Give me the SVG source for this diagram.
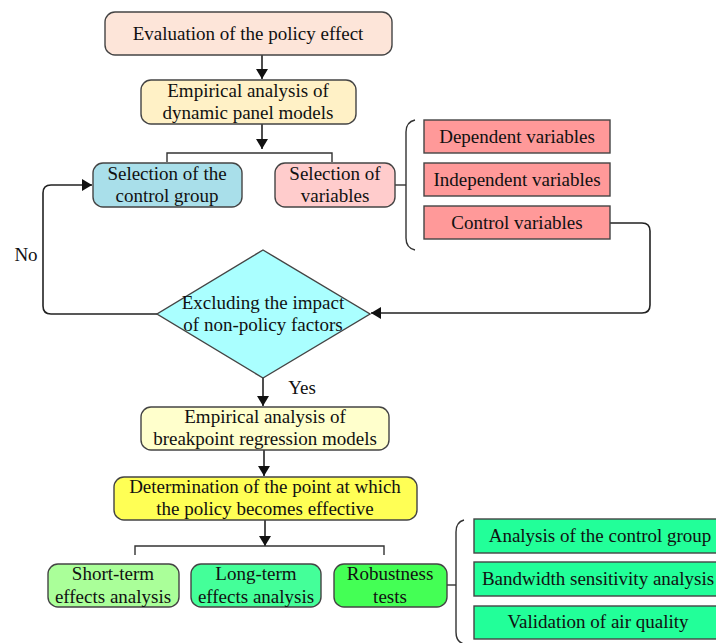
<svg xmlns="http://www.w3.org/2000/svg" width="716" height="643" viewBox="0 0 716 643">
<defs>
<marker id="ah" markerWidth="10" markerHeight="12" refX="10" refY="6" orient="auto" markerUnits="userSpaceOnUse">
<path d="M0,0 L10,6 L0,12 z" fill="#111"/>
</marker>
<style>
.n{stroke:#444;stroke-width:1.4}
.t{font-family:"Liberation Serif","Times New Roman",serif;font-size:19px;fill:#111;text-anchor:middle}
.c{fill:none;stroke:#222;stroke-width:1.6}
.l{fill:none;stroke:#333;stroke-width:1.4}
</style>
</defs>
<rect width="716" height="643" fill="#fff"/>
<g id="connectors">
<line class="c" x1="262" y1="55" x2="262" y2="79" marker-end="url(#ah)"/>
<line class="c" x1="262" y1="124" x2="262" y2="149" marker-end="url(#ah)"/>
<polyline class="l" points="167,162 167,153 332,153 332,162"/>
<line class="l" x1="395" y1="185" x2="406" y2="185"/>
<path class="l" d="M415,120 Q406,122 406,132 L406,238 Q406,248 415,250"/>
<path class="c" d="M610,223 L642,223 Q650,223 650,231 L650,305 Q650,313 642,313 L371,313" marker-end="url(#ah)"/>
<path class="c" d="M157,314 L51,314 Q43,314 43,306 L43,193 Q43,185 51,185 L92,185" marker-end="url(#ah)"/>
<line class="c" x1="263" y1="378" x2="263" y2="406" marker-end="url(#ah)"/>
<line class="c" x1="264" y1="450" x2="264" y2="476" marker-end="url(#ah)"/>
<line class="c" x1="265" y1="520" x2="265" y2="546" marker-end="url(#ah)"/>
<polyline class="l" points="135,555 135,546 384,546 384,555"/>
<line class="l" x1="447" y1="585" x2="456" y2="585"/>
<path class="l" d="M464,520 Q456,522 456,532 L456,632 Q456,642 464,644"/>
<text class="t" x="26" y="261">No</text>
<text class="t" x="302" y="394">Yes</text>
</g>
<g id="evaluation">
<rect class="n" x="105" y="12" width="287" height="43" rx="10" fill="#fde5d9"/>
<text class="t" x="248" y="40">Evaluation of the policy effect</text>
</g>
<g id="dynamic-panel">
<rect class="n" x="141" y="80" width="215" height="44" rx="10" fill="#fff1c6"/>
<text class="t" x="248" y="97">Empirical analysis of</text>
<text class="t" x="248" y="119">dynamic panel models</text>
</g>
<g id="control-group">
<rect class="n" x="93" y="163" width="149" height="44" rx="10" fill="#a9dfea"/>
<text class="t" x="167" y="180">Selection of the</text>
<text class="t" x="167" y="202">control group</text>
</g>
<g id="selection-variables">
<rect class="n" x="275" y="163" width="120" height="44" rx="10" fill="#ffcccc"/>
<text class="t" x="335" y="180">Selection of</text>
<text class="t" x="335" y="202">variables</text>
</g>
<g id="dependent">
<rect class="n" x="424" y="120" width="186" height="33" fill="#ff9999"/>
<text class="t" x="517" y="143">Dependent variables</text>
</g>
<g id="independent">
<rect class="n" x="424" y="163" width="186" height="33" fill="#ff9999"/>
<text class="t" x="517" y="186">Independent variables</text>
</g>
<g id="control-variables">
<rect class="n" x="424" y="206" width="186" height="33" fill="#ff9999"/>
<text class="t" x="517" y="229">Control variables</text>
</g>
<g id="decision">
<polygon class="n" points="263,250 370,314 263,378 157,314" fill="#aaffff"/>
<text class="t" x="263" y="309">Excluding the impact</text>
<text class="t" x="263" y="331">of non-policy factors</text>
</g>
<g id="breakpoint">
<rect class="n" x="141" y="407" width="248" height="43" rx="10" fill="#ffffcc"/>
<text class="t" x="265" y="423">Empirical analysis of</text>
<text class="t" x="265" y="445">breakpoint regression models</text>
</g>
<g id="determination">
<rect class="n" x="114" y="477" width="303" height="43" rx="10" fill="#ffff55"/>
<text class="t" x="265" y="493">Determination of the point at which</text>
<text class="t" x="265" y="515">the policy becomes effective</text>
</g>
<g id="short-term">
<rect class="n" x="48" y="564" width="131" height="43" rx="10" fill="#aaff99"/>
<text class="t" x="113" y="580">Short-term</text>
<text class="t" x="113" y="603">effects analysis</text>
</g>
<g id="long-term">
<rect class="n" x="191" y="564" width="130" height="43" rx="10" fill="#44ff99"/>
<text class="t" x="256" y="580">Long-term</text>
<text class="t" x="256" y="603">effects analysis</text>
</g>
<g id="robustness">
<rect class="n" x="334" y="564" width="113" height="43" rx="10" fill="#44ff55"/>
<text class="t" x="390" y="580">Robustness</text>
<text class="t" x="390" y="603">tests</text>
</g>
<g id="analysis-control">
<rect class="n" x="474" y="519" width="250" height="34" fill="#22ff99"/>
<text class="t" x="600" y="542">Analysis of the control group</text>
</g>
<g id="bandwidth">
<rect class="n" x="474" y="562" width="250" height="34" fill="#22ff99"/>
<text class="t" x="598" y="585">Bandwidth sensitivity analysis</text>
</g>
<g id="air-quality">
<rect class="n" x="474" y="606" width="250" height="33" fill="#22ff99"/>
<text class="t" x="598" y="628">Validation of air quality</text>
</g>
</svg>
